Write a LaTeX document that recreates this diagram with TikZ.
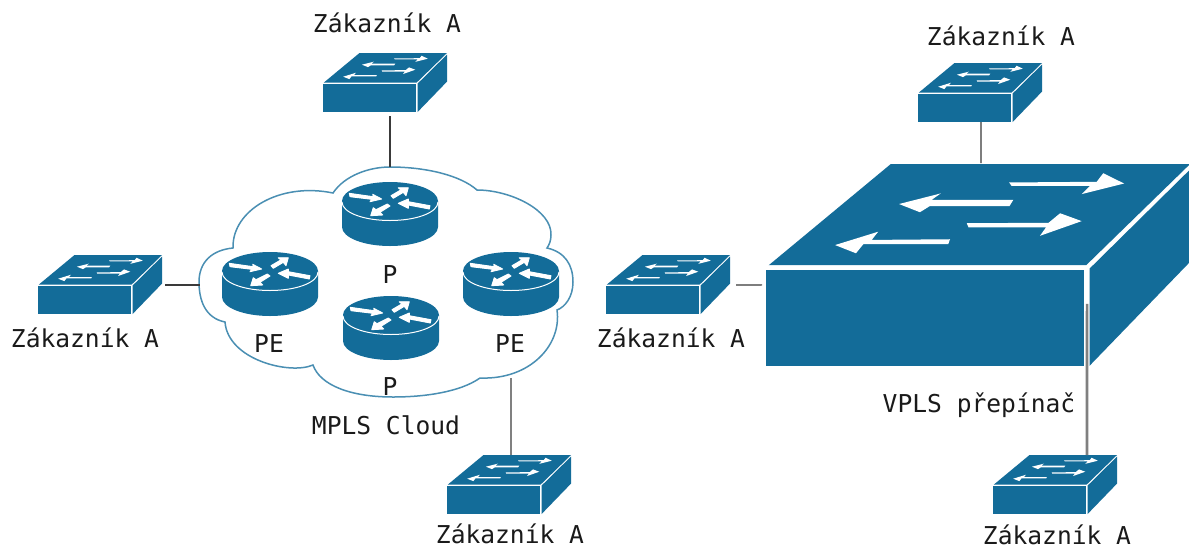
\documentclass[tikz,border=0pt]{standalone}
\usepackage{fontspec}
\setmainfont{DejaVu Sans Mono}
\usetikzlibrary{calc}
\definecolor{netblue}{HTML}{136C99}
\definecolor{cloudline}{HTML}{4A8FB3}
\definecolor{linkdark}{HTML}{3A3A3A}
\definecolor{linkgrey}{HTML}{808080}
\definecolor{labelink}{HTML}{1A1A1A}
\tikzset{
  switchbox/.style={minimum width={#1*124pt},minimum height={#1*59pt},inner sep=0pt,outer sep=0pt,anchor=north west},
  routerbox/.style={minimum width=96pt,minimum height=64pt,inner sep=0pt,outer sep=0pt,anchor=north west},
  cloudbox/.style={minimum width=375pt,minimum height=232pt,inner sep=0pt,outer sep=0pt},
  cloudedge/.style={draw=cloudline,line width=1.5pt},
  linkline/.style={draw=linkdark,line width=1.2pt},
  greylink/.style={draw=linkgrey,line width=1.6pt},
  greylinkthick/.style={draw=linkgrey,line width=2.6pt},
  routerarrow/.style={fill=white,draw=white,line width=0.9pt,line join=round},
  caption/.style={anchor=base,inner sep=0pt,text=labelink,font=\fontsize{24.6}{28}\selectfont}
}
\newcommand{\switchat}[4]{%
  \node[switchbox=#4] (#1) at (#2,#3) {};
  \begin{scope}[shift={(#2,#3)},x=#4pt,y=-#4pt]
    \fill[netblue] (0.8,29.6) -- (36.5,0) -- (124,0) -- (93.6,29.6) -- cycle;
    \fill[netblue] (0,31) -- (93,31) -- (93,59) -- (0,59) -- cycle;
    \fill[netblue] (94.6,30.6) -- (124,1.6) -- (124,28.6) -- (94.6,59) -- cycle;
    \fill[white] (71.1,5.4) -- (96.7,5.2) -- (98.6,2.7) -- (104.7,5.7) -- (92.3,8.8) -- (94.7,6.4) -- (71.8,6.4) -- cycle;
    \fill[white] (38.9,11.7) -- (51.1,8.6) -- (48.4,10.5) -- (72.3,10.5) -- (71.2,12.3) -- (47.9,12.3) -- (45,14.1) -- cycle;
    \fill[white] (58.7,17.3) -- (82.6,17.2) -- (86,14.4) -- (92.3,16.7) -- (80.1,21) -- (81.9,18.5) -- (59.2,18.5) -- cycle;
    \fill[white] (20.2,23.7) -- (32.8,19.8) -- (30.9,22.2) -- (53.8,22) -- (53.3,23.4) -- (28.5,23.4) -- (26.3,26.1) -- cycle;
  \end{scope}}
\newcommand{\routerat}[3]{%
  \node[routerbox] (#1) at (#2,#3) {};
  \begin{scope}[shift={(#2,#3)}]
    \fill[netblue] (0,19) .. controls (0,8.5) and (21.5,0) .. (48,0) .. controls (74.5,0) and (96,8.5) .. (96,19) -- (96,45) .. controls (96,55.5) and (74.5,64) .. (48,64) .. controls (21.5,64) and (0,55.5) .. (0,45) -- cycle;
    \draw[white,line width=1pt] (0,20) .. controls (0,30.5) and (21.5,38.5) .. (48,38.5) .. controls (74.5,38.5) and (96,30.5) .. (96,20);
    \path[routerarrow] (7.3,11.3) -- (31.3,14.7) -- (30.7,12.3) -- (39.7,17) -- (28,19.7) -- (29.7,17.3) -- (8,14.7) -- cycle;
    \path[routerarrow] (66.3,5.7) -- (64,13.7) -- (61.3,10.3) -- (51.3,16.3) -- (49,13.7) -- (58.7,8) -- (56.3,5.7) -- cycle;
    \path[routerarrow] (56.3,21.3) -- (66.3,17) -- (66.3,19.7) -- (88,23.7) -- (87.3,27) -- (66.3,23) -- (66.3,26.3) -- cycle;
    \path[routerarrow] (28.7,33.7) -- (31.3,25.7) -- (34,27.7) -- (45.3,22) -- (48,24) -- (38,30.3) -- (40.7,33) -- cycle;
  \end{scope}}
\begin{document}
\begin{tikzpicture}[x=1pt,y=-1pt]
\useasboundingbox (0,0) rectangle (1189,547);
\fill[white] (0,0) rectangle (1189,547);
% cloud
\node[cloudbox] (cloud) at (386.5,282) {};
\draw[cloudedge] (333,193)
  .. controls (345,175) and (370,167) .. (390,167)
  .. controls (425,167) and (460,175) .. (477,190)
  .. controls (510,190) and (552,210) .. (551,235)
  .. controls (551,241) and (549,245) .. (547,248)
  .. controls (565,252) and (573,265) .. (573,282)
  .. controls (573,297) and (565,307) .. (557,310)
  .. controls (562,345) and (530,380) .. (480,378)
  .. controls (460,392) and (425,397) .. (393,397)
  .. controls (350,397) and (320,385) .. (313,365)
  .. controls (290,375) and (228,360) .. (225,322)
  .. controls (205,318) and (199,300) .. (199,282)
  .. controls (199,262) and (212,250) .. (233,248)
  .. controls (232,210) and (280,182) .. (333,193) -- cycle;
% routers
\routerat{rTop}{342}{182}
\routerat{rBot}{343}{296}
\routerat{rLeft}{222}{252}
\routerat{rRight}{463}{252}
% switches
\switchat{swTop}{323}{53}{1}
\switchat{swLeft}{38}{255}{1}
\switchat{swBot}{447}{455}{1}
\switchat{swMid}{606}{255}{1}
\switchat{swRight}{918}{63}{1}
\switchat{swBR}{993}{455}{1}
\switchat{big}{766}{164}{3.42}
% links
\draw[linkline] ($(swTop.south)+(5,4)$) -- ($(cloud.north)+(3.5,1)$);
\draw[linkline] ($(swLeft.east)+(3,0.5)$) -- ($(cloud.west)+(1,3)$);
\draw[greylink] ($(cloud.south)+(124.5,-20)$) -- ($(swBot.north)+(2,0)$);
\draw[linkline] ($(swMid.east)+(6,0.5)$) -- ($(big.west)+(-4,20)$);
\draw[linkline] ($(swRight.south)+(1,0)$) -- ($(big.north)+(3,-1)$);
\draw[greylinkthick] ($(big.south)+(109,-62)$) -- ($(swBR.north)+(32,0)$);
% labels
\node[caption] (t1) at (387,32) {Zákazník A};
\node[caption] (t2) at (85,347) {Zákazník A};
\node[caption] (t3) at (269,352) {PE};
\node[caption] (t4) at (510,352) {PE};
\node[caption] (t5) at (390,283) {P};
\node[caption] (t6) at (390,395) {P};
\node[caption] (t7) at (386,434) {MPLS Cloud};
\node[caption] (t8) at (671,347) {Zákazník A};
\node[caption] (t9) at (510,543) {Zákazník A};
\node[caption] (t10) at (1001,45) {Zákazník A};
\node[caption] (t11) at (979,412) {VPLS přepínač};
\node[caption] (t12) at (1057,544) {Zákazník A};
\end{tikzpicture}
\end{document}
